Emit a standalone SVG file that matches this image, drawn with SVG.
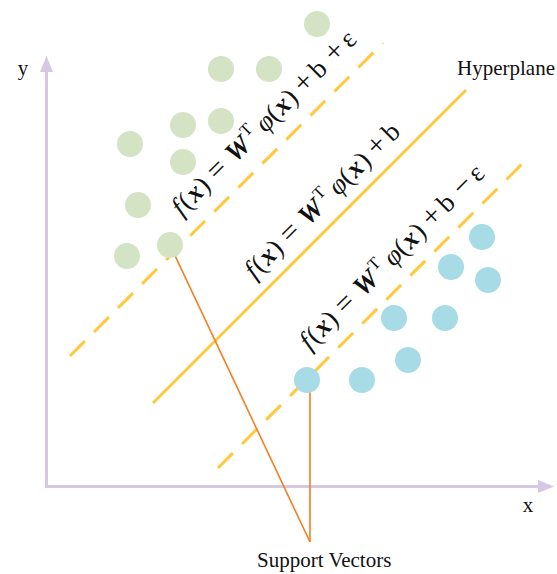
<svg xmlns="http://www.w3.org/2000/svg" width="557" height="574" viewBox="0 0 557 574">
<style>
.axis{stroke:#D4C8E2;stroke-width:3;fill:none}
.ahead{fill:#D4C8E2}
.hyper{stroke:#FFC83D;stroke-width:3;fill:none}
.margin{stroke:#FFC83D;stroke-width:3;fill:none;stroke-dasharray:21 13}
.sv{stroke:#F57E22;stroke-width:1.6;fill:none}
.g{fill:#D3E3C3}
.b{fill:#A7DCE6}
.lbl{font-family:"Liberation Serif","Times New Roman",serif;font-size:21px;fill:#111}
.eq{font-family:"Liberation Serif","Times New Roman",serif;font-size:27px;fill:#111;text-anchor:middle}
.i{font-style:italic}
.bi{font-style:italic;font-weight:bold}
.op{font-size:30px}
.sup{font-size:17px}
</style>
<rect width="557" height="574" fill="#fff"/>
<g id="axes">
<path class="axis" d="M46.5,70 V486.5 H540"/>
<polygon class="ahead" points="46.5,56 40,72 53,72"/>
<polygon class="ahead" points="554,486.5 538,480 538,493"/>
</g>
<g id="lines">
<line class="margin" x1="70" y1="356" x2="383" y2="43"/>
<line class="hyper" x1="153" y1="403" x2="466" y2="90"/>
<line class="margin" x1="218" y1="468" x2="530" y2="156"/>
</g>
<g id="connectors">
<line class="sv" x1="170" y1="245" x2="310" y2="542"/>
<line class="sv" x1="310" y1="385" x2="310" y2="542"/>
</g>
<g id="class-green">
<circle class="g" cx="317" cy="24" r="13"/>
<circle class="g" cx="221" cy="69" r="13"/>
<circle class="g" cx="269" cy="69" r="13"/>
<circle class="g" cx="183" cy="125" r="13"/>
<circle class="g" cx="221" cy="121" r="13"/>
<circle class="g" cx="130" cy="144" r="13"/>
<circle class="g" cx="183" cy="162" r="13"/>
<circle class="g" cx="138" cy="205" r="13"/>
<circle class="g" cx="127" cy="256" r="13"/>
<circle class="g" cx="170" cy="245" r="13"/>
</g>
<g id="class-blue">
<circle class="b" cx="482" cy="237" r="13"/>
<circle class="b" cx="451" cy="267" r="13"/>
<circle class="b" cx="488" cy="280" r="13"/>
<circle class="b" cx="394" cy="318" r="13"/>
<circle class="b" cx="445" cy="318" r="13"/>
<circle class="b" cx="408" cy="360" r="13"/>
<circle class="b" cx="307" cy="380" r="13"/>
<circle class="b" cx="362" cy="380" r="13"/>
</g>
<g id="eq-upper" transform="translate(181,218) rotate(-45)">
<text class="eq"><tspan class="i" x="5" y="0">f</tspan><tspan x="14.9" y="0">(</tspan><tspan class="bi" x="27.1" y="0">x</tspan><tspan x="39.1" y="0">)</tspan><tspan class="op" x="59.6" y="0">=</tspan><tspan class="bi" x="89.2" y="0">W</tspan><tspan class="sup" x="108.5" y="-11">T</tspan><tspan class="i" x="127" y="0">φ</tspan><tspan x="138.9" y="0">(</tspan><tspan class="bi" x="151.1" y="0">x</tspan><tspan x="163.1" y="0">)</tspan><tspan class="op" x="182.9" y="0">+</tspan><tspan x="202.1" y="0">b</tspan><tspan class="op" x="226.2" y="0">+</tspan><tspan x="244.7" y="0">ε</tspan></text>
</g>
<g id="eq-hyperplane" transform="translate(254,281) rotate(-45)">
<text class="eq"><tspan class="i" x="5" y="0">f</tspan><tspan x="14.9" y="0">(</tspan><tspan class="bi" x="27.1" y="0">x</tspan><tspan x="39.1" y="0">)</tspan><tspan class="op" x="59.6" y="0">=</tspan><tspan class="bi" x="89.2" y="0">W</tspan><tspan class="sup" x="108.5" y="-11">T</tspan><tspan class="i" x="127" y="0">φ</tspan><tspan x="138.9" y="0">(</tspan><tspan class="bi" x="151.1" y="0">x</tspan><tspan x="163.1" y="0">)</tspan><tspan class="op" x="182.9" y="0">+</tspan><tspan x="202.1" y="0">b</tspan></text>
</g>
<g id="eq-lower" transform="translate(309,352) rotate(-45)">
<text class="eq"><tspan class="i" x="5" y="0">f</tspan><tspan x="14.9" y="0">(</tspan><tspan class="bi" x="27.1" y="0">x</tspan><tspan x="39.1" y="0">)</tspan><tspan class="op" x="59.6" y="0">=</tspan><tspan class="bi" x="89.2" y="0">W</tspan><tspan class="sup" x="108.5" y="-11">T</tspan><tspan class="i" x="127" y="0">φ</tspan><tspan x="138.9" y="0">(</tspan><tspan class="bi" x="151.1" y="0">x</tspan><tspan x="163.1" y="0">)</tspan><tspan class="op" x="182.9" y="0">+</tspan><tspan x="202.1" y="0">b</tspan><tspan class="op" x="226.2" y="0">−</tspan><tspan x="244.7" y="0">ε</tspan></text>
</g>
<g id="label-y"><text class="lbl" x="23" y="75" text-anchor="middle">y</text></g>
<g id="label-x"><text class="lbl" x="528" y="512" text-anchor="middle">x</text></g>
<g id="label-hyperplane"><text class="lbl" x="457" y="75">Hyperplane</text></g>
<g id="label-support"><text class="lbl" x="257" y="567">Support Vectors</text></g>
</svg>
